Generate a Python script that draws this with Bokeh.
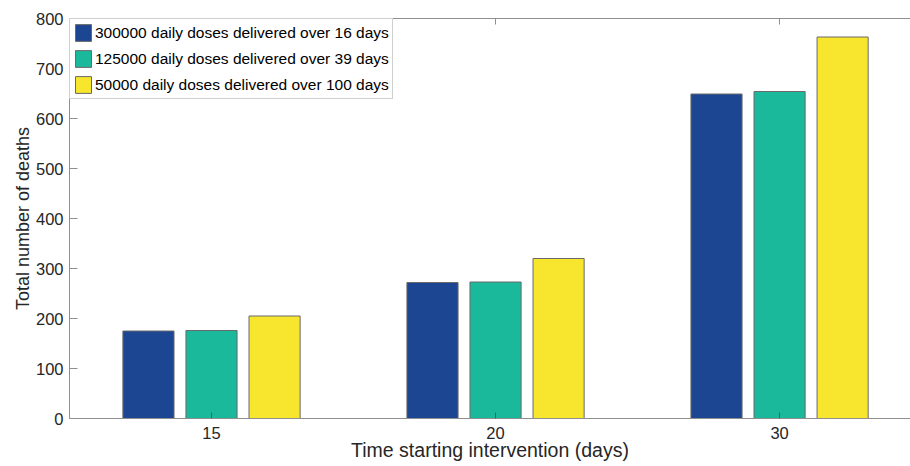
from bokeh.plotting import figure
from bokeh.models import ColumnDataSource, FixedTicker, LinearAxis, Range1d, Legend, LegendItem
from bokeh.transform import dodge
from bokeh.embed import file_html
from bokeh.resources import INLINE

# ---- data ----
categories = ["15", "20", "30"]
series_names = [
    "300000 daily doses delivered over 16 days",
    "125000 daily doses delivered over 39 days",
    "50000 daily doses delivered over 100 days",
]
deaths_300k = [175, 272, 649]
deaths_125k = [176, 273, 654]
deaths_50k = [205, 320, 763]
y_ticks = [0, 100, 200, 300, 400, 500, 600, 700, 800]

colors = ["#1c4592", "#1bb99b", "#f7e52e"]
FONT = "Liberation Sans"
AXIS_COL = "#8f8f8f"
TXT_COL = "#262626"

xpos = list(range(1, len(categories) + 1))
source = ColumnDataSource(dict(x=xpos, s0=deaths_300k, s1=deaths_125k, s2=deaths_50k))

p = figure(width=910, height=466, output_backend="svg", toolbar_location=None,
           x_range=Range1d(0.5, 3.461), y_range=Range1d(0, 800),
           min_border_left=69, min_border_right=0, min_border_top=18, min_border_bottom=48)
p.outline_line_color = None
p.xgrid.visible = False
p.ygrid.visible = False
p.background_fill_color = "white"

offsets = [-0.222, 0.0, 0.222]
renderers = []
for i, key in enumerate(["s0", "s1", "s2"]):
    r = p.vbar(x=dodge("x", offsets[i], range=p.x_range), top=key, width=0.18,
               source=source, fill_color=colors[i], line_color="#6a6a6a", line_width=1)
    renderers.append(r)

# x axis
p.xaxis.ticker = FixedTicker(ticks=xpos)
p.xaxis.major_label_overrides = {x: c for x, c in zip(xpos, categories)}
p.xaxis.minor_tick_line_color = None
p.xaxis.major_tick_in = 6
p.xaxis.major_tick_out = 0
p.xaxis.axis_line_color = AXIS_COL
p.xaxis.major_tick_line_color = "#555555"
p.xaxis.major_label_text_font = FONT
p.xaxis.major_label_text_font_size = "16.5px"
p.xaxis.major_label_text_color = TXT_COL
p.xaxis.major_label_standoff = 8
p.xaxis.axis_label = "Time starting intervention (days)"
p.xaxis.axis_label_text_font = FONT
p.xaxis.axis_label_text_font_size = "19.5px"
p.xaxis.axis_label_text_font_style = "normal"
p.xaxis.axis_label_text_color = TXT_COL
p.xaxis.axis_label_standoff = -3

# y axis
p.yaxis.ticker = FixedTicker(ticks=y_ticks)
p.yaxis.minor_tick_line_color = None
p.yaxis.major_tick_in = 8
p.yaxis.major_tick_out = 0
p.yaxis.axis_line_color = AXIS_COL
p.yaxis.major_tick_line_color = AXIS_COL
p.yaxis.major_label_text_font = FONT
p.yaxis.major_label_text_font_size = "16.5px"
p.yaxis.major_label_text_color = TXT_COL
p.yaxis.major_label_standoff = 6
p.yaxis.axis_label = "Total number of deaths"
p.yaxis.axis_label_text_font = FONT
p.yaxis.axis_label_text_font_size = "18px"
p.yaxis.axis_label_text_font_style = "normal"
p.yaxis.axis_label_text_color = TXT_COL
p.yaxis.axis_label_standoff = 0

# top box line with inward ticks (no labels)
top = LinearAxis(ticker=FixedTicker(ticks=xpos), major_label_overrides={x: "" for x in xpos},
                 major_label_standoff=0, major_tick_in=6, major_tick_out=0,
                 minor_tick_line_color=None, axis_line_color=AXIS_COL,
                 major_tick_line_color=AXIS_COL)
p.add_layout(top, "above")

legend = Legend(items=[LegendItem(label=n, renderers=[r]) for n, r in zip(series_names, renderers)],
                location="top_left", margin=0, padding=3, spacing=5,
                glyph_width=20, glyph_height=21, label_height=21, label_standoff=2,
                label_text_font=FONT, label_text_font_size="15.5px", label_text_color="#000000",
                border_line_color="#a0a0a0", border_line_width=1,
                background_fill_color="white", background_fill_alpha=1)
p.add_layout(legend, "center")

open("out.html", "w").write(file_html(p, INLINE))
